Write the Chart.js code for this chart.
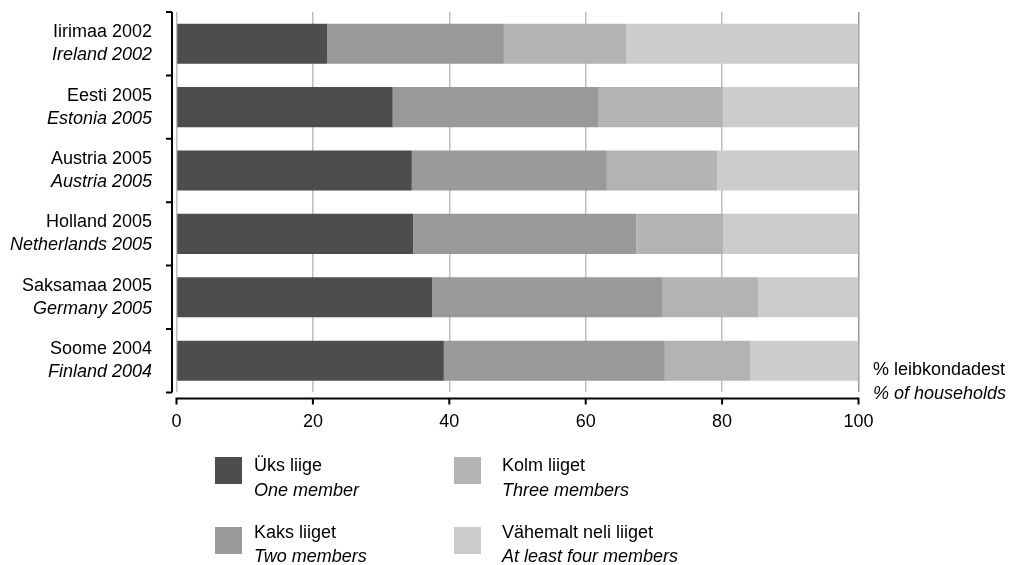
<!DOCTYPE html>
<html lang="et">
<head>
    <meta charset="UTF-8" />
    <title>Leibkonnad suuruse järgi</title>
    <script src="https://cdn.jsdelivr.net/npm/chart.js"></script>
    <style>
        body { margin: 0; background: #fff; }
        .wrap { position: relative; width: 1014px; height: 565px; }
    </style>
</head>
<body>
    <div class="wrap"><canvas id="hhChart"></canvas></div>

    <script>
        // data
        const countriesEt = ['Iirimaa 2002', 'Eesti 2005', 'Austria 2005', 'Holland 2005', 'Saksamaa 2005', 'Soome 2004'];
        const countriesEn = ['Ireland 2002', 'Estonia 2005', 'Austria 2005', 'Netherlands 2005', 'Germany 2005', 'Finland 2004'];
        const oneMember   = [22.1, 31.7, 34.5, 34.7, 37.5, 39.2];
        const twoMembers  = [25.9, 30.1, 28.6, 32.7, 33.8, 32.4];
        const threeMembers = [17.9, 18.3, 16.2, 12.8, 14.0, 12.5];
        const fourPlus    = [34.1, 19.9, 20.7, 19.8, 14.7, 15.9];
        const seriesEt = ['Üks liige', 'Kaks liiget', 'Kolm liiget', 'Vähemalt neli liiget'];
        const seriesEn = ['One member', 'Two members', 'Three members', 'At least four members'];
        const xTicks = [0, 20, 40, 60, 80, 100];
        const axisTitle = ['% leibkondadest', '% of households'];

        const colors = ['#4d4d4d', '#999999', '#b3b3b3', '#cccccc'];
        const FONT = "'Liberation Sans', Arial, sans-serif";
        const FS = 18;
        const values = [oneMember, twoMembers, threeMembers, fourPlus];

        // axes, two-line labels, title and legend are drawn by hand
        const extras = {
            id: 'extras',
            afterDraw(chart) {
                const ctx = chart.ctx;
                const x = chart.scales.x, y = chart.scales.y;
                const area = chart.chartArea;
                ctx.save();

                // value axis
                const axY = area.bottom + 6;
                ctx.strokeStyle = '#000';
                ctx.lineWidth = 2;
                ctx.beginPath();
                ctx.moveTo(x.getPixelForValue(0) - 1, axY);
                ctx.lineTo(x.getPixelForValue(100) + 1, axY);
                xTicks.forEach(v => {
                    const px = x.getPixelForValue(v);
                    ctx.moveTo(px, axY);
                    ctx.lineTo(px, axY + 6);
                });
                ctx.stroke();

                // category axis
                const axX = area.left - 4.5;
                ctx.beginPath();
                ctx.moveTo(axX, area.top);
                ctx.lineTo(axX, area.bottom);
                const band = (area.bottom - area.top) / countriesEt.length;
                for (let i = 0; i <= countriesEt.length; i++) {
                    const py = area.top + i * band;
                    ctx.moveTo(axX - 6, py);
                    ctx.lineTo(axX, py);
                }
                ctx.stroke();

                // category labels
                ctx.fillStyle = '#000';
                ctx.textAlign = 'right';
                ctx.textBaseline = 'middle';
                countriesEt.forEach((c, i) => {
                    const py = y.getPixelForValue(i);
                    ctx.font = FS + 'px ' + FONT;
                    ctx.fillText(c, 152, py - 11.5);
                    ctx.font = 'italic ' + FS + 'px ' + FONT;
                    ctx.fillText(countriesEn[i], 152, py + 11.5);
                });

                // axis title on the right
                ctx.textAlign = 'left';
                ctx.font = FS + 'px ' + FONT;
                ctx.fillText(axisTitle[0], 873, 370);
                ctx.font = 'italic ' + FS + 'px ' + FONT;
                ctx.fillText(axisTitle[1], 873, 394);

                // legend 2 x 2
                const cols = [215, 454];
                const textX = [254, 502];
                const rows = [457, 527];
                const textY = [[466, 491], [533, 557]];
                seriesEt.forEach((s, i) => {
                    const c = Math.floor(i / 2);
                    const r = i % 2;
                    ctx.fillStyle = colors[i];
                    ctx.fillRect(cols[c], rows[r], 27, 27);
                    ctx.fillStyle = '#000';
                    ctx.font = FS + 'px ' + FONT;
                    ctx.fillText(s, textX[c], textY[r][0]);
                    ctx.font = 'italic ' + FS + 'px ' + FONT;
                    ctx.fillText(seriesEn[i], textX[c], textY[r][1]);
                });

                ctx.restore();
            }
        };

        new Chart(document.getElementById('hhChart'), {
            type: 'bar',
            data: {
                labels: countriesEt,
                datasets: values.map((d, i) => ({
                    label: seriesEt[i],
                    data: d,
                    backgroundColor: colors[i],
                    borderWidth: 0,
                    categoryPercentage: 1,
                    barPercentage: 0.632
                }))
            },
            options: {
                indexAxis: 'y',
                responsive: true,
                maintainAspectRatio: false,
                animation: false,
                layout: { padding: { left: 176.5, right: 155.5, top: 12, bottom: 113 } },
                scales: {
                    x: {
                        stacked: true,
                        min: 0,
                        max: 100,
                        ticks: {
                            stepSize: 20,
                            padding: 19,
                            color: '#000',
                            font: { family: FONT, size: FS }
                        },
                        grid: {
                            drawTicks: false,
                            lineWidth: 1.5,
                            color: ctx => ctx.tick && ctx.tick.value === 100 ? '#999999' : '#bdbdbd'
                        },
                        border: { display: false }
                    },
                    y: {
                        stacked: true,
                        display: false
                    }
                },
                plugins: {
                    legend: { display: false },
                    tooltip: { enabled: false }
                }
            },
            plugins: [extras]
        });
    </script>
</body>
</html>
